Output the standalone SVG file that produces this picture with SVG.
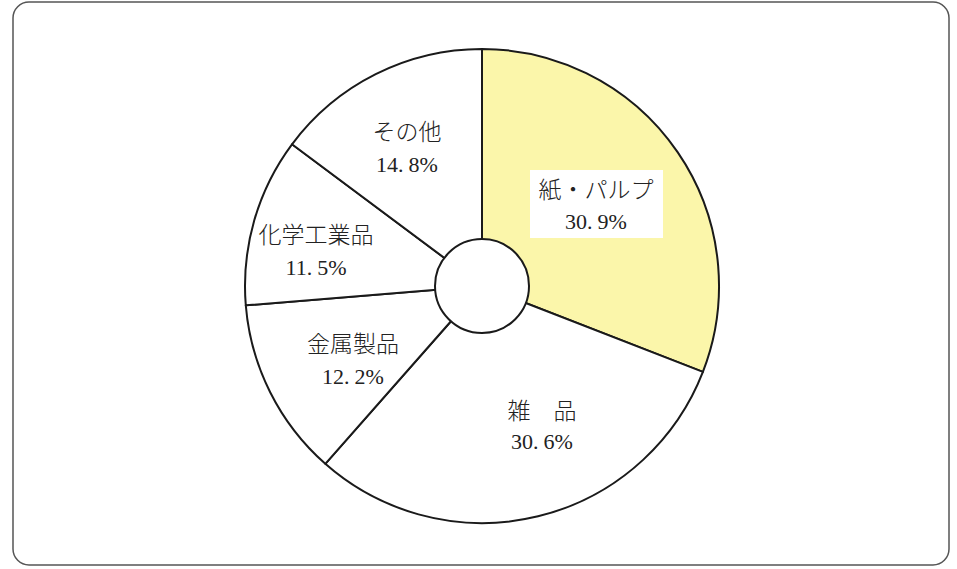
<svg xmlns="http://www.w3.org/2000/svg" width="957" height="569" viewBox="0 0 957 569">
<style>
.slice{stroke:#1a1a1a;stroke-width:2;stroke-linejoin:round}
.lbl{font-family:"Liberation Serif","Noto Sans CJK JP",serif;font-size:22px;fill:#222;text-anchor:middle}
.jp{font-family:"Noto Sans CJK JP","Liberation Serif",serif;font-weight:300;font-size:23px}
</style>
<rect x="13" y="2" width="936" height="563" rx="16" fill="#fff" stroke="#555" stroke-width="1.5"/>
<g id="pie">
  <g id="slice-paper">
    <path class="slice" fill="#FBF6AA" d="M482,286 L482,49 A237,237 0 0 1 702.9,371.9 Z"/>
    <rect x="530" y="170" width="133" height="68" fill="#fff"/>
    <text class="lbl" x="596" y="198"><tspan class="jp">紙・パルプ</tspan></text>
    <text class="lbl" x="596" y="229">30.<tspan dx="5">9%</tspan></text>
  </g>
  <g id="slice-misc">
    <path class="slice" fill="#fff" d="M482,286 L702.9,371.9 A237,237 0 0 1 325.3,463.8 Z"/>
    <text class="lbl" x="542" y="419"><tspan class="jp">雑　品</tspan></text>
    <text class="lbl" x="542" y="449">30.<tspan dx="5">6%</tspan></text>
  </g>
  <g id="slice-metal">
    <path class="slice" fill="#fff" d="M482,286 L325.3,463.8 A237,237 0 0 1 245.8,305.3 Z"/>
    <text class="lbl" x="353" y="352"><tspan class="jp">金属製品</tspan></text>
    <text class="lbl" x="353" y="384">12.<tspan dx="5">2%</tspan></text>
  </g>
  <g id="slice-chem">
    <path class="slice" fill="#fff" d="M482,286 L245.8,305.3 A237,237 0 0 1 292,144.3 Z"/>
    <text class="lbl" x="316" y="243"><tspan class="jp">化学工業品</tspan></text>
    <text class="lbl" x="316" y="275">11.<tspan dx="5">5%</tspan></text>
  </g>
  <g id="slice-other">
    <path class="slice" fill="#fff" d="M482,286 L292,144.3 A237,237 0 0 1 482,49 Z"/>
    <text class="lbl" x="407" y="140"><tspan class="jp">その他</tspan></text>
    <text class="lbl" x="407" y="172">14.<tspan dx="5">8%</tspan></text>
  </g>
  <circle id="hole" cx="482" cy="286" r="47" fill="#fff" stroke="#1a1a1a" stroke-width="2"/>
</g>
<g id="connectors"></g>
</svg>
